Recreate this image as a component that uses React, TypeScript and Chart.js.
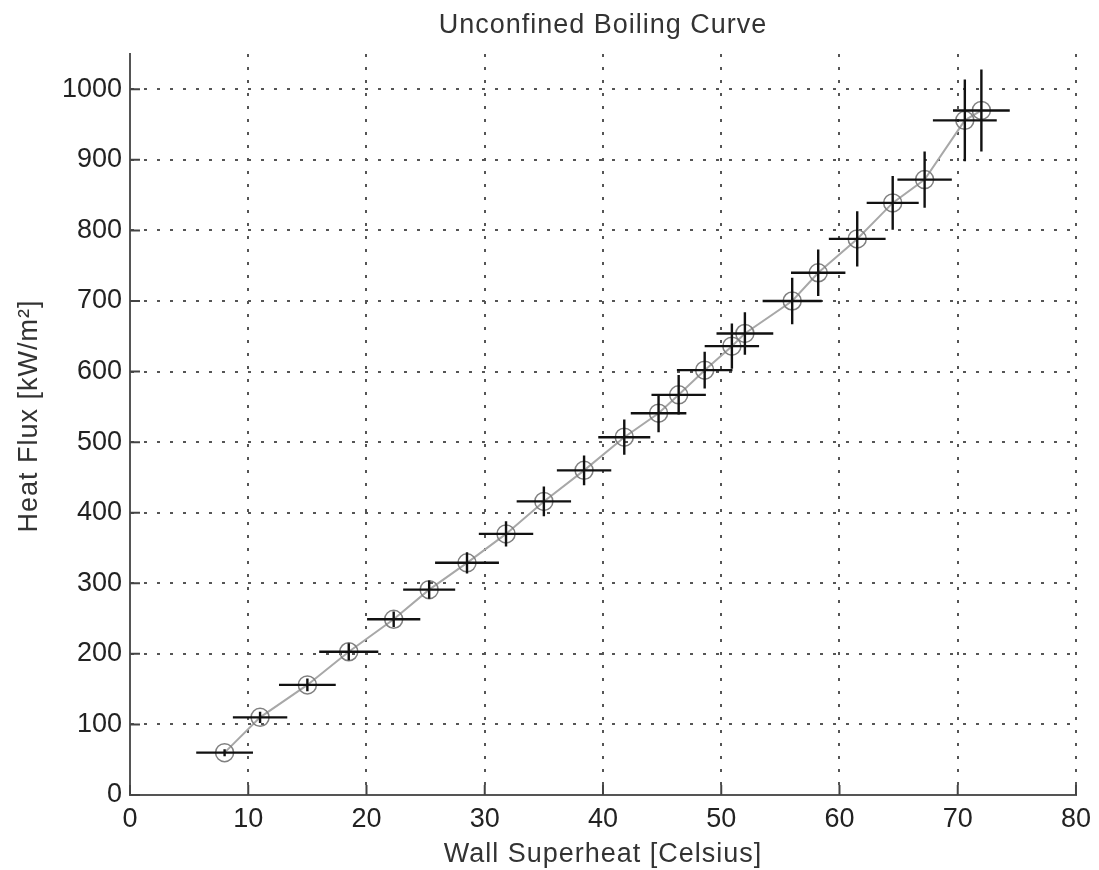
import React, { useEffect, useRef } from "react";
import { Chart, registerables } from "chart.js";

Chart.register(...registerables);

// Wall superheat [Celsius]
const superheat = [8.0, 11.0, 15.0, 18.5, 22.3, 25.3, 28.5, 31.8, 35.0, 38.4, 41.8, 44.7, 46.4, 48.6, 50.9, 52.0, 56.0, 58.2, 61.5, 64.5, 67.2, 70.6, 72.0];
// Heat flux [kW/m^2]
const heatFlux = [60, 110, 156, 203, 249, 291, 329, 370, 416, 460, 507, 541, 567, 602, 636, 654, 700, 740, 788, 839, 872, 956, 970];
// Horizontal error (half width, Celsius)
const xErr = [2.4, 2.3, 2.4, 2.5, 2.25, 2.2, 2.7, 2.3, 2.3, 2.3, 2.2, 2.35, 2.3, 2.35, 2.3, 2.4, 2.5, 2.3, 2.4, 2.2, 2.3, 2.7, 2.4];
// Vertical error (half height, kW/m^2)
const yErr = [5, 8, 9, 12, 11, 13, 15, 18, 21, 21, 25, 27, 28, 26, 32, 30, 33, 33, 39, 38, 40, 58, 58];

const xTicks = [0, 10, 20, 30, 40, 50, 60, 70, 80];
const yTicks = [0, 100, 200, 300, 400, 500, 600, 700, 800, 900, 1000];

const titleText = "Unconfined Boiling Curve";
const xLabel = "Wall Superheat [Celsius]";
const yLabel = "Heat Flux [kW/m²]";

const FONT = '"Liberation Sans", Arial, Helvetica, sans-serif';

const errorBarPlugin = {
  id: "errorBars",
  afterDatasetsDraw(chart: any) {
    const { ctx, scales } = chart;
    const xs = scales.x;
    const ys = scales.y;
    ctx.save();
    ctx.strokeStyle = "#111";
    ctx.lineWidth = 2.4;
    ctx.lineCap = "butt";
    superheat.forEach((xv, i) => {
      const yv = heatFlux[i];
      const px = xs.getPixelForValue(xv);
      const py = ys.getPixelForValue(yv);
      ctx.beginPath();
      ctx.moveTo(xs.getPixelForValue(xv - xErr[i]), py);
      ctx.lineTo(xs.getPixelForValue(xv + xErr[i]), py);
      ctx.moveTo(px, ys.getPixelForValue(yv - yErr[i]));
      ctx.lineTo(px, ys.getPixelForValue(yv + yErr[i]));
      ctx.stroke();
    });
    ctx.restore();
  },
};

const inwardTicksPlugin = {
  id: "inwardTicks",
  beforeDatasetsDraw(chart: any) {
    const { ctx, scales, chartArea } = chart;
    const len = 10;
    ctx.save();
    ctx.strokeStyle = "#444";
    ctx.lineWidth = 2;
    ctx.beginPath();
    xTicks.forEach((v) => {
      const px = scales.x.getPixelForValue(v);
      ctx.moveTo(px, chartArea.bottom);
      ctx.lineTo(px, chartArea.bottom - len);
    });
    yTicks.forEach((v) => {
      const py = scales.y.getPixelForValue(v);
      ctx.moveTo(chartArea.left, py);
      ctx.lineTo(chartArea.left + len, py);
    });
    ctx.stroke();
    ctx.restore();
  },
};

const labelsPlugin = {
  id: "labels",
  afterDraw(chart: any) {
    const { ctx, chartArea } = chart;
    const cx = (chartArea.left + chartArea.right) / 2;
    ctx.save();
    ctx.fillStyle = "#333";
    ctx.font = `27px ${FONT}`;
    (ctx as any).letterSpacing = "1px";
    ctx.textAlign = "center";
    ctx.textBaseline = "alphabetic";
    ctx.fillText(titleText, cx, 33);
    ctx.fillText(xLabel, cx, 862);
    ctx.translate(37, 416);
    ctx.rotate(-Math.PI / 2);
    ctx.fillText(yLabel, 0, 0);
    ctx.restore();
  },
};

export default function App() {
  const ref = useRef<HTMLCanvasElement>(null);

  useEffect(() => {
    if (!ref.current) return;
    const chart = new Chart(ref.current, {
      type: "scatter",
      data: {
        datasets: [
          {
            data: superheat.map((x, i) => ({ x, y: heatFlux[i] })),
            showLine: true,
            borderColor: "#a8a8a8",
            borderWidth: 2,
            pointRadius: 9,
            pointBorderWidth: 1.5,
            pointBorderColor: "#808080",
            pointBackgroundColor: "rgba(0,0,0,0)",
          },
        ],
      },
      options: {
        responsive: false,
        animation: false,
        layout: { padding: { left: 0, right: 23, top: 54, bottom: 0 } },
        plugins: {
          legend: { display: false },
          tooltip: { enabled: false },
          title: { display: false },
        },
        scales: {
          x: {
            type: "linear",
            min: 0,
            max: 80,
            afterBuildTicks: (scale: any) => {
              scale.ticks = xTicks.map((v) => ({ value: v }));
            },
            afterFit: (scale: any) => {
              scale.height = 75;
            },
            ticks: {
              autoSkip: false,
              maxRotation: 0,
              padding: 8,
              color: "#222",
              font: { family: FONT, size: 27 },
              callback: (v: any) => String(v),
            },
            grid: {
              color: "#555",
              lineWidth: 2,
              drawTicks: false,
            },
            border: { display: true, color: "#555", width: 2, dash: [3, 10] },
            title: { display: false },
          },
          y: {
            type: "linear",
            min: 0,
            max: 1050,
            afterBuildTicks: (scale: any) => {
              scale.ticks = yTicks.map((v) => ({ value: v }));
            },
            afterFit: (scale: any) => {
              scale.width = 130;
            },
            ticks: {
              autoSkip: false,
              padding: 8,
              color: "#222",
              font: { family: FONT, size: 27 },
              callback: (v: any) => String(v),
            },
            grid: {
              color: "#555",
              lineWidth: 2,
              drawTicks: false,
            },
            border: { display: true, color: "#555", width: 2, dash: [3, 10] },
            title: { display: false },
          },
        },
      },
      plugins: [inwardTicksPlugin, errorBarPlugin, labelsPlugin],
    } as any);
    return () => chart.destroy();
  }, []);

  return (
    <div style={{ position: "fixed", left: 0, top: 0, width: 1099, height: 870, background: "#fff" }}>
      <canvas ref={ref} width={1099} height={870} style={{ display: "block" }} />
    </div>
  );
}
